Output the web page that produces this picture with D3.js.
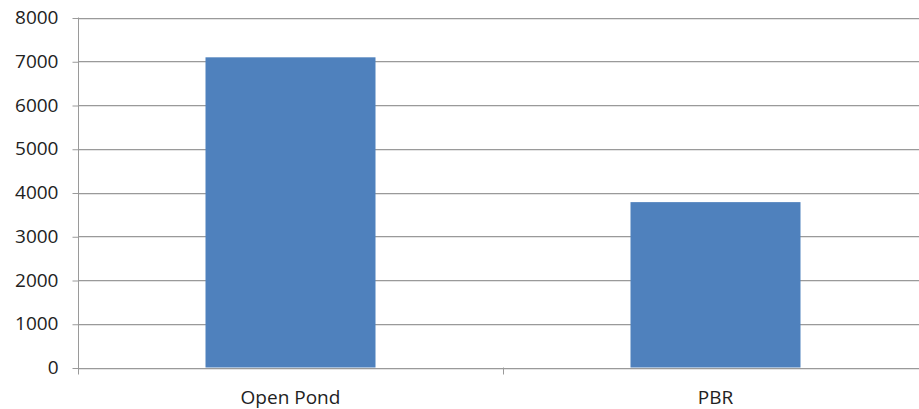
<!DOCTYPE html>
<html><head><meta charset="utf-8">
<script src="https://cdn.jsdelivr.net/npm/d3@7"></script>
<style>html,body{margin:0;padding:0;background:#fff;overflow:hidden}</style>
</head><body>
<svg id="c" width="919" height="409"></svg>
<script>
const categories = ["Open Pond", "PBR"];
const values = [7090, 3780];
const yTicks = [0, 1000, 2000, 3000, 4000, 5000, 6000, 7000, 8000];

(function () {
const svg = d3.select("#c");
const pLeft = 78, pRight = 928, pTop = 17.5, pBottom = 367.5;
const font = "'Open Sans', sans-serif";
const fs = 19;

const x = d3.scaleBand().domain(categories).range([pLeft, pRight]).paddingInner(0.6).paddingOuter(0.3);
const y = d3.scaleLinear().domain([0, 8000]).range([pBottom, pTop]);

// gridlines
svg.append("g").selectAll("line").data(yTicks).join("line")
  .attr("x1", pLeft).attr("x2", 919)
  .attr("y1", d => Math.round(y(d)) + 0.5).attr("y2", d => Math.round(y(d)) + 0.5)
  .attr("stroke", "#9a9a9a").attr("stroke-width", 1);
svg.append("g").selectAll("line").data(yTicks).join("line")
  .attr("x1", pLeft).attr("x2", 919)
  .attr("y1", d => Math.round(y(d)) + 1.5).attr("y2", d => Math.round(y(d)) + 1.5)
  .attr("stroke", "#e4e4e4").attr("stroke-width", 1);

// bars
svg.append("g").selectAll("rect").data(values).join("rect")
  .attr("x", (d, i) => x(categories[i]))
  .attr("width", x.bandwidth())
  .attr("y", d => y(d))
  .attr("height", d => y(0) - y(d))
  .attr("fill", "#4f81bd");

// y axis
const ya = svg.append("g").attr("transform", `translate(${pLeft + 0.5},0)`)
  .call(d3.axisLeft(y).tickValues(yTicks).tickSize(6).tickPadding(14).tickFormat(d3.format("d")));
ya.select(".domain").attr("stroke", "#9a9a9a").attr("d", `M0,${pTop}V${pBottom + 7}`);
ya.selectAll(".tick line").attr("stroke", "#9a9a9a").attr("transform", "translate(0,0.5)");
ya.selectAll("text").attr("font-family", font).attr("font-size", fs).attr("fill", "#222");

// x axis
svg.append("line").attr("x1", pLeft).attr("x2", 919).attr("y1", Math.round(pBottom) + 0.5).attr("y2", Math.round(pBottom) + 0.5).attr("stroke", "#9a9a9a");
svg.append("g").selectAll("line").data([x.step()]).join("line")
  .attr("x1", d => Math.round(pLeft + d) + 0.5).attr("x2", d => Math.round(pLeft + d) + 0.5)
  .attr("y1", pBottom).attr("y2", pBottom + 7).attr("stroke", "#9a9a9a");
svg.append("g").selectAll("text").data(categories).join("text")
  .attr("x", d => x(d) + x.bandwidth() / 2)
  .attr("y", 404)
  .attr("text-anchor", "middle")
  .attr("font-family", font).attr("font-size", fs).attr("fill", "#222")
  .text(d => d);
})();
</script>
</body></html>
